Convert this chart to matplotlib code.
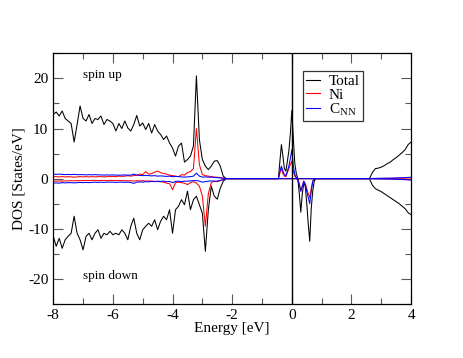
import numpy as np
import matplotlib
matplotlib.use("Agg")
import matplotlib.pyplot as plt

plt.rcParams['font.family'] = ['Liberation Serif', 'DejaVu Serif']
plt.rcParams['mathtext.fontset'] = 'custom'
plt.rcParams['mathtext.rm'] = 'Liberation Serif'
plt.rcParams['axes.unicode_minus'] = False

# ---------------- data ----------------
# valence region, -8.0 ... -2.2 eV (0.1 eV step)
E_val = np.round(np.linspace(-8.0, -2.2, 59), 2)
tot_up_val = [12.8, 13.3, 12.5, 13.5, 12.0, 11.5, 11.0, 7.3, 10.8, 14.5,
              12.0, 11.5, 12.8, 11.0, 12.0, 11.8, 12.5, 10.8, 11.8, 11.5,
              11.0, 9.5, 11.0, 10.0, 11.5, 10.1, 9.5, 10.8, 12.6, 10.5,
              11.1, 9.8, 11.0, 9.1, 10.8, 9.5, 8.8, 7.8, 8.5, 7.1,
              6.1, 4.5, 6.5, 7.1, 3.3, 3.8, 4.5, 6.5, 20.5, 7.8,
              3.8, 2.5, 1.8, 2.5, 3.5, 3.6, 2.5, 0.5, 0.0]
tot_dn_val = [-11.5, -13.5, -11.9, -13.9, -12.2, -11.5, -10.9, -7.5, -10.9, -12.2,
              -14.2, -11.5, -10.9, -12.2, -10.9, -10.2, -11.9, -10.9, -11.2, -10.5,
              -11.2, -10.9, -11.2, -10.2, -10.9, -12.2, -9.5, -7.9, -10.9, -12.2,
              -10.2, -9.5, -8.9, -9.5, -8.2, -10.2, -8.5, -7.5, -8.2, -6.2,
              -10.9, -6.2, -5.5, -4.2, -5.2, -2.5, -6.2, -4.2, -3.5, -5.2,
              -6.9, -14.5, -6.2, -1.5, -3.5, -4.1, -1.9, -0.5, 0.0]
ni_up_val = [0.4, 0.4, 0.35, 0.4, 0.35, 0.4, 0.35, 0.3, 0.35, 0.4,
             0.35, 0.4, 0.35, 0.4, 0.35, 0.4, 0.4, 0.35, 0.4, 0.4,
             0.45, 0.4, 0.5, 0.45, 0.5, 0.6, 0.5, 0.6, 0.7, 0.9,
             0.8, 1.4, 0.9, 1.0, 1.3, 1.5, 1.2, 1.0, 0.9, 0.7,
             0.6, 0.5, 0.4, 0.8, 0.7, 1.2, 1.4, 2.0, 10.0, 2.8,
             0.8, 0.6, 0.5, 0.4, 0.3, 0.3, 0.2, 0.1, 0.0]
ni_dn_val = [-0.5, -0.5, -0.45, -0.5, -0.45, -0.45, -0.4, -0.45, -0.4, -0.4,
             -0.4, -0.35, -0.4, -0.35, -0.35, -0.4, -0.35, -0.35, -0.4, -0.35,
             -0.35, -0.4, -0.35, -0.4, -0.4, -0.45, -0.4, -0.5, -0.4, -0.45,
             -0.4, -0.5, -0.45, -0.5, -0.55, -0.6, -0.6, -0.7, -0.9, -1.0,
             -2.2, -0.8, -0.7, -0.8, -0.9, -1.2, -0.8, -0.6, -0.9, -1.5,
             -3.5, -9.5, -3.0, -0.8, -0.5, -0.6, -0.4, -0.2, 0.0]
c_up_val = [0.9, 0.85, 0.9, 0.85, 0.8, 0.85, 0.8, 0.85, 0.8, 0.8,
            0.8, 0.75, 0.8, 0.75, 0.8, 0.75, 0.75, 0.7, 0.75, 0.7,
            0.75, 0.7, 0.7, 0.7, 0.75, 0.7, 0.7, 0.9, 0.7, 0.65,
            0.6, 0.65, 0.6, 0.55, 0.6, 0.5, 0.55, 0.5, 0.45, 0.5,
            0.4, 0.45, 0.4, 0.35, 0.3, 0.35, 0.4, 0.5, 1.1, 0.5,
            0.3, 0.35, 0.3, 0.3, 0.25, 0.2, 0.15, 0.1, 0.0]
c_dn_val = [-0.9, -0.85, -0.9, -0.8, -0.85, -0.8, -0.8, -0.85, -0.8, -0.75,
            -0.8, -0.75, -0.8, -0.75, -0.7, -0.75, -0.7, -0.75, -0.7, -0.7,
            -0.7, -0.75, -0.7, -0.7, -0.75, -0.7, -0.75, -0.95, -0.7, -0.65,
            -0.7, -0.6, -0.65, -0.55, -0.6, -0.5, -0.55, -0.5, -0.6, -0.55,
            -0.8, -0.55, -0.5, -0.6, -0.5, -0.5, -0.45, -0.4, -0.4, -0.5,
            -0.7, -0.6, -0.5, -0.45, -0.5, -0.5, -0.35, -0.2, 0.0]

# region around the Fermi level, -0.45 ... 0.8 eV (0.05 eV step)
E_fermi = np.round(np.linspace(-0.45, 0.8, 26), 2)
tot_up_f = [0, 3.5, 6.8, 4.5, 2.0, 1.5, 3.5, 5.5, 9.0, 13.6, 8.0, 3.0, 1.0,
            0, 0, 0, 0, 0, 0, 0, 0, 0, 0, 0, 0, 0]
tot_dn_f = [0, 0, 0, 0, 0, 0, 0, 0, 0, 0, 0, 0, 0,
            0, -3.0, -6.7, -3.0, -1.0, -1.5, -5.0, -9.0, -12.5, -6.0, -2.5, -0.5, 0]
ni_up_f = [0, 1.2, 2.0, 1.0, 0.5, 0.4, 1.2, 2.0, 2.8, 3.5, 1.5, 0.5, 0.1,
           0, 0, 0, 0, 0, 0, 0, 0, 0, 0, 0, 0, 0]
ni_dn_f = [0, 0, 0, 0, 0, 0, 0, 0, 0, 0, 0, 0, 0,
           0, -1.0, -2.5, -1.5, -0.5, -1.0, -2.0, -3.0, -3.8, -2.0, -0.5, 0, 0]
c_up_f = [0, 1.5, 2.5, 1.5, 0.8, 0.6, 1.5, 2.5, 4.0, 5.8, 2.5, 0.8, 0.2,
          0, 0, 0, 0, 0, 0, 0, 0, 0, 0, 0, 0, 0]
c_dn_f = [0, 0, 0, 0, 0, 0, 0, 0, 0, 0, 0, 0, 0,
          -0.3, -1.2, -2.5, -1.5, -0.5, -1.2, -2.5, -3.8, -5.0, -2.5, -0.6, 0, 0]

# conduction region, 2.6 ... 4.0 eV (0.1 eV step)
E_cond = np.round(np.linspace(2.6, 4.0, 15), 2)
tot_up_c = [0, 1.2, 2.0, 2.1, 2.3, 2.6, 3.0, 3.3, 3.8, 4.2, 4.7, 5.2, 5.8, 6.8, 7.3]
tot_dn_c = [0, -1.3, -2.0, -2.3, -2.6, -3.0, -3.4, -3.8, -4.2, -4.6, -5.0, -5.5, -6.0, -6.8, -7.2]
ni_up_c = [0, 0.02, 0.03, 0.03, 0.04, 0.05, 0.05, 0.06, 0.07, 0.08, 0.1, 0.1, 0.12, 0.15, 0.15]
ni_dn_c = [0, -0.02, -0.03, -0.03, -0.04, -0.05, -0.05, -0.06, -0.07, -0.08, -0.1, -0.1, -0.12, -0.15, -0.15]
c_up_c = [0, 0.03, 0.05, 0.06, 0.07, 0.08, 0.09, 0.1, 0.12, 0.14, 0.16, 0.18, 0.2, 0.25, 0.28]
c_dn_c = [0, -0.03, -0.05, -0.06, -0.07, -0.08, -0.09, -0.1, -0.12, -0.14, -0.16, -0.18, -0.2, -0.25, -0.28]

legend_labels = ['Total', 'Ni', r'C$_{\mathrm{NN}}$']


def full(v, f, c):
    return np.concatenate([v, f, c])


E = np.concatenate([E_val, E_fermi, E_cond])

# ---------------- figure ----------------
fig = plt.figure(figsize=(4.63, 3.58), dpi=100)
ax = fig.add_axes([0.115, 0.151, 0.773, 0.700])

lw = 0.75
ax.plot(E, full(tot_up_val, tot_up_f, tot_up_c), color='black', lw=lw, label=legend_labels[0])
ax.plot(E, full(tot_dn_val, tot_dn_f, tot_dn_c), color='black', lw=lw)
ax.plot(E, full(ni_up_val, ni_up_f, ni_up_c), color='red', lw=lw, label=legend_labels[1])
ax.plot(E, full(ni_dn_val, ni_dn_f, ni_dn_c), color='red', lw=lw)
ax.plot(E, full(c_up_val, c_up_f, c_up_c), color='blue', lw=lw, label=legend_labels[2])
ax.plot(E, full(c_dn_val, c_dn_f, c_dn_c), color='blue', lw=lw)

ax.axvline(0, color='black', lw=1.0)

ax.set_xlim(-8, 4)
ax.set_ylim(-25, 25)
ax.set_xticks([-8, -6, -4, -2, 0, 2, 4])
ax.set_xticks([-7, -5, -3, -1, 1, 3], minor=True)
ax.set_yticks([-20, -10, 0, 10, 20])
ax.set_yticks([-25, -15, -5, 5, 15, 25], minor=True)
ax.tick_params(which='both', direction='in', top=True, right=True,
               color='0.35', labelsize=11, width=0.8)
ax.tick_params(which='major', length=7)
ax.tick_params(which='minor', length=4)
for s in ax.spines.values():
    s.set_linewidth(0.9)

ax.set_xlabel('Energy [eV]', fontsize=11, labelpad=0)
ax.set_ylabel('DOS [States/eV]', fontsize=11, labelpad=2)

ax.text(-7.0, 20.6, 'spin up', fontsize=9.5, va='center', ha='left')
ax.text(-7.0, -19.4, 'spin down', fontsize=9.5, va='center', ha='left')

leg = ax.legend(loc='upper left', bbox_to_anchor=(0.697, 0.929), fontsize=11,
                frameon=True, fancybox=False, handlelength=0.9, handletextpad=0.6,
                borderpad=0.2, labelspacing=0.0, borderaxespad=0)
leg.get_frame().set_edgecolor('black')
leg.get_frame().set_linewidth(0.9)
for h in leg.get_lines():
    h.set_linewidth(0.8)

fig.savefig('out.png', dpi=100)
